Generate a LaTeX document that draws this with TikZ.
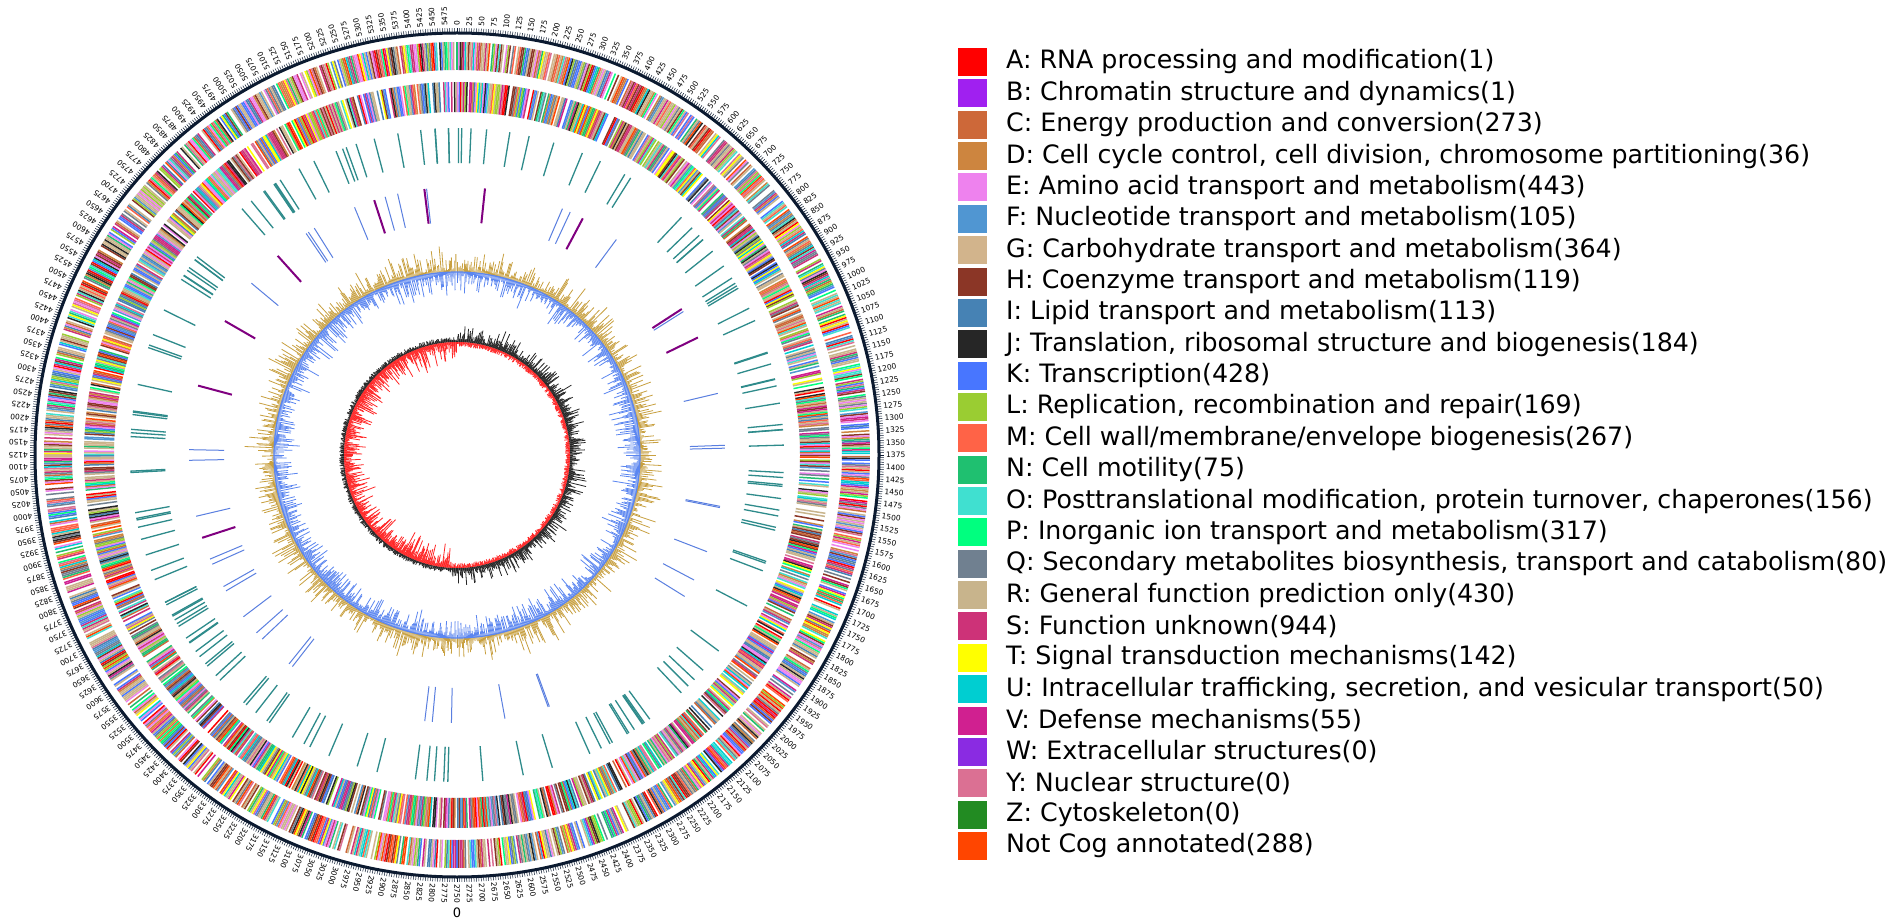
\documentclass[tikz,border=0pt]{standalone}
\usepackage{fontspec}
\setmainfont{DejaVu Sans}
\usepackage{tikz}

\definecolor{cogA}{HTML}{FF0000}
\definecolor{cogB}{HTML}{A020F0}
\definecolor{cogC}{HTML}{CD6839}
\definecolor{cogD}{HTML}{CD853F}
\definecolor{cogE}{HTML}{EE82EE}
\definecolor{cogF}{HTML}{5096D2}
\definecolor{cogG}{HTML}{D2B48C}
\definecolor{cogH}{HTML}{8B3626}
\definecolor{cogI}{HTML}{4682B4}
\definecolor{cogJ}{HTML}{262626}
\definecolor{cogK}{HTML}{4876FF}
\definecolor{cogL}{HTML}{9ACD32}
\definecolor{cogM}{HTML}{FF6347}
\definecolor{cogN}{HTML}{1FC070}
\definecolor{cogO}{HTML}{40E0D0}
\definecolor{cogP}{HTML}{00FF7F}
\definecolor{cogQ}{HTML}{708090}
\definecolor{cogR}{HTML}{C8B48C}
\definecolor{cogS}{HTML}{CD3278}
\definecolor{cogT}{HTML}{FFFF00}
\definecolor{cogU}{HTML}{00CED1}
\definecolor{cogV}{HTML}{D02090}
\definecolor{cogW}{HTML}{8A2BE2}
\definecolor{cogY}{HTML}{DB7093}
\definecolor{cogZ}{HTML}{228B22}
\definecolor{cogX}{HTML}{FF4500}
\definecolor{rnateal}{HTML}{2E8B8B}
\definecolor{rnablue}{HTML}{5A7FE0}
\definecolor{rnapurple}{HTML}{800080}
\definecolor{gcgold}{HTML}{C8A040}
\definecolor{gcblue}{HTML}{5B86F0}
\definecolor{ringnavy}{HTML}{0B1A30}

\pgfmathdeclarerandomlist{cog}{{cogA}{cogC}{cogD}{cogE}{cogF}{cogG}{cogH}{cogI}{cogJ}{cogK}{cogL}{cogM}{cogN}{cogO}{cogP}{cogQ}{cogR}{cogS}{cogS}{cogR}{cogK}{cogE}{cogT}{cogU}{cogV}{cogY}{cogX}{cogG}{cogQ}{cogH}{cogR}}

\begin{document}
\begin{tikzpicture}[x=1pt,y=1pt,
    stripe/.style={line width=1.5pt},
    ticklabel/.style={anchor=west,inner sep=0pt,font=\fontsize{7.5}{8}\selectfont},
    legbox/.style={minimum width=29pt,minimum height=28pt,inner sep=0pt},
    legtext/.style={anchor=west,inner sep=0pt,font=\fontsize{25.3}{30}\selectfont}]
    \useasboundingbox[fill=white] (0,0) rectangle (1902,922);
    \pgfmathsetseed{11}
    \begin{scope}[shift={(457,467)}]
        % outer ring with scale
        \draw[ringnavy,line width=3pt] (0,0) circle (422);
        \foreach \v in {0,5,...,5495}
            \draw[ringnavy,line width=0.5pt] ({90-\v/5500*360}:422) -- ({90-\v/5500*360}:427);
        \foreach \v [count=\k] in {0,25,...,5475}
            \node[ticklabel,rotate={90-\v/5500*360}] (t\k) at ({90-\v/5500*360}:429) {\v};
        % genes on the two strands
        \foreach \i in {1,...,1500}{
            \pgfmathtruncatemacro\keep{rnd<0.86}
            \ifnum\keep=1
                \pgfmathrandomitem\c{cog}
                \pgfmathsetmacro\a{90-\i/1500*360}
                \draw[stripe,\c] (\a:385) -- (\a:413);
            \fi
            \pgfmathtruncatemacro\keep{rnd<0.84}
            \ifnum\keep=1
                \pgfmathrandomitem\c{cog}
                \pgfmathsetmacro\a{90-(\i+0.5)/1500*360}
                \draw[stripe,\c] (\a:343) -- (\a:373);
            \fi
        }
        % rRNA / tRNA
        \foreach \i in {1,...,150}{
            \pgfmathsetmacro\a{rnd*360}
            \draw[rnateal,line width=1.3pt] (\a:292) -- (\a:327);
        }
        \foreach \i in {1,...,38}{
            \pgfmathsetmacro\a{rnd*360}
            \draw[rnablue,line width=1pt] (\a:233) -- (\a:268);
        }
        \foreach \a in {62,84,97,108,132,150,165,198,26,33}
            \draw[rnapurple,line width=2pt] (\a:233) -- (\a:268);
        % GC content
        \foreach \i in {1,...,1100}{
            \pgfmathsetmacro\a{90-\i/1100*360}
            \pgfmathsetmacro\p{2+28*rnd*rnd}
            \pgfmathsetmacro\q{2+26*rnd*rnd}
            \draw[gcgold,line width=0.8pt] (\a:183) -- (\a:183+\p);
            \draw[gcblue,line width=0.8pt] (\a:183) -- (\a:183-\q);
        }
        \draw[gcblue,line width=1.2pt] (0,0) circle (183);
        % GC skew
        \foreach \i in {1,...,1100}{
            \pgfmathsetmacro\a{90-\i/1100*360}
            \ifnum\i<560
                \pgfmathsetmacro\p{2+20*rnd*rnd}
                \pgfmathsetmacro\q{1+4*rnd}
            \else
                \pgfmathsetmacro\p{1+4*rnd}
                \pgfmathsetmacro\q{2+24*rnd*rnd}
            \fi
            \draw[black!85,line width=0.8pt] (\a:113) -- (\a:113+\p);
            \draw[red!85,line width=0.8pt] (\a:113) -- (\a:113-\q);
        }
    \end{scope}
    \node[inner sep=0pt,font=\fontsize{13}{13}\selectfont] (zero) at (457,9) {0};
    % legend
    \foreach \c/\t [count=\k] in {cogA/{A: RNA processing and modification(1)},
        cogB/{B: Chromatin structure and dynamics(1)},
        cogC/{C: Energy production and conversion(273)},
        cogD/{D: Cell cycle control, cell division, chromosome partitioning(36)},
        cogE/{E: Amino acid transport and metabolism(443)},
        cogF/{F: Nucleotide transport and metabolism(105)},
        cogG/{G: Carbohydrate transport and metabolism(364)},
        cogH/{H: Coenzyme transport and metabolism(119)},
        cogI/{I: Lipid transport and metabolism(113)},
        cogJ/{J: Translation, ribosomal structure and biogenesis(184)},
        cogK/{K: Transcription(428)},
        cogL/{L: Replication, recombination and repair(169)},
        cogM/{M: Cell wall/membrane/envelope biogenesis(267)},
        cogN/{N: Cell motility(75)},
        cogO/{O: Posttranslational modification, protein turnover, chaperones(156)},
        cogP/{P: Inorganic ion transport and metabolism(317)},
        cogQ/{Q: Secondary metabolites biosynthesis, transport and catabolism(80)},
        cogR/{R: General function prediction only(430)},
        cogS/{S: Function unknown(944)},
        cogT/{T: Signal transduction mechanisms(142)},
        cogU/{U: Intracellular trafficking, secretion, and vesicular transport(50)},
        cogV/{V: Defense mechanisms(55)},
        cogW/{W: Extracellular structures(0)},
        cogY/{Y: Nuclear structure(0)},
        cogZ/{Z: Cytoskeleton(0)},
        cogX/{Not Cog annotated(288)}}{
        \node[legbox,fill=\c] (box\k) at (972.5,{922-62-31.36*(\k-1)}) {};
        \node[legtext] (leg\k) at (1006,{922-62-31.36*(\k-1)}) {\t};
    }
\end{tikzpicture}
\end{document}
